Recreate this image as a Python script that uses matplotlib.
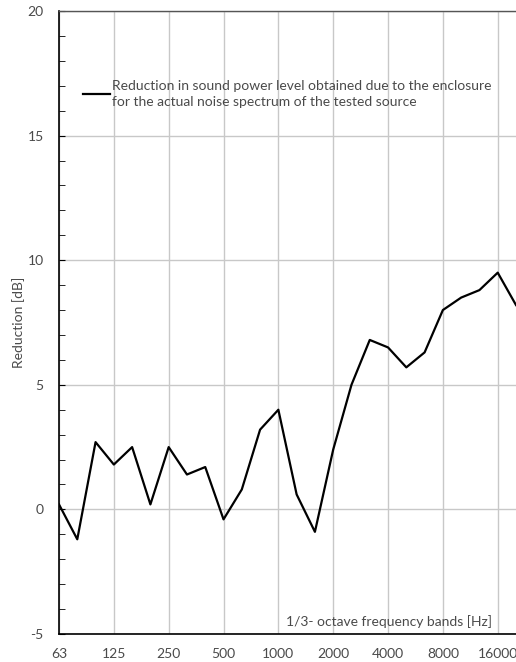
import numpy as np
import matplotlib.pyplot as plt
from matplotlib.ticker import MultipleLocator

plt.rcParams['font.family'] = ['Lato', 'DejaVu Sans']
plt.rcParams['axes.unicode_minus'] = False

# 1/3-octave band centre frequencies
bands = ['63', '80', '100', '125', '160', '200', '250', '315', '400', '500',
         '630', '800', '1000', '1250', '1600', '2000', '2500', '3150', '4000',
         '5000', '6300', '8000', '10000', '12500', '16000', '20000']
# reduction in dB for each band
reduction = [0.2, -1.2, 2.7, 1.8, 2.5, 0.2, 2.5, 1.4, 1.7, -0.4,
             0.8, 3.2, 4.0, 0.6, -0.9, 2.4, 5.0, 6.8, 6.5,
             5.7, 6.3, 8.0, 8.5, 8.8, 9.5, 8.2]
tick_labels = ['63', '125', '250', '500', '1000', '2000', '4000', '8000', '16000']

txt = '#4a4a4a'
grid = '#c8c8c8'
fs = 10

fig = plt.figure(figsize=(5.16, 6.62), dpi=100)
ax = fig.add_axes([59/516, 1 - 634/662, 1 - 59/516, (634 - 11)/662])

x = np.arange(len(bands))
ax.plot(x, reduction, color='black', lw=1.6,
        label='Reduction in sound power level obtained due to the enclosure\n'
              'for the actual noise spectrum of the tested source')

ax.set_xlim(0, len(bands) - 1)
ax.set_ylim(-5, 20)

ax.set_xticks(x[::3])
ax.set_xticklabels(tick_labels)
ax.yaxis.set_major_locator(MultipleLocator(5))
ax.yaxis.set_minor_locator(MultipleLocator(1))

ax.tick_params(axis='x', length=0, pad=10, labelsize=fs, labelcolor=txt)
ax.tick_params(axis='y', which='major', direction='in', length=4, pad=11,
               labelsize=fs, labelcolor=txt, color='black')
ax.tick_params(axis='y', which='minor', direction='in', length=4, color='black')

ax.grid(True, which='major', color=grid, lw=1)
ax.set_axisbelow(True)

ax.spines['left'].set_color('black')
ax.spines['left'].set_linewidth(1.2)
ax.spines['bottom'].set_color('black')
ax.spines['bottom'].set_linewidth(1.2)
ax.spines['top'].set_color('#555555')
ax.spines['top'].set_linewidth(1)
ax.spines['right'].set_visible(False)

ax.set_ylabel('Reduction [dB]', fontsize=fs, color=txt, labelpad=2)

ax.text(0.947, 0.0193, '1/3- octave frequency bands [Hz]', transform=ax.transAxes,
        ha='right', va='center', fontsize=fs, color=txt)

leg = ax.legend(loc='center left', bbox_to_anchor=(0.0525, 0.867), frameon=False,
                fontsize=fs, handlelength=1.95, handletextpad=0.15,
                borderaxespad=0, borderpad=0)
for t in leg.get_texts():
    t.set_color(txt)
    t.set_linespacing(1.35)

fig.savefig('out.png', dpi=100)
